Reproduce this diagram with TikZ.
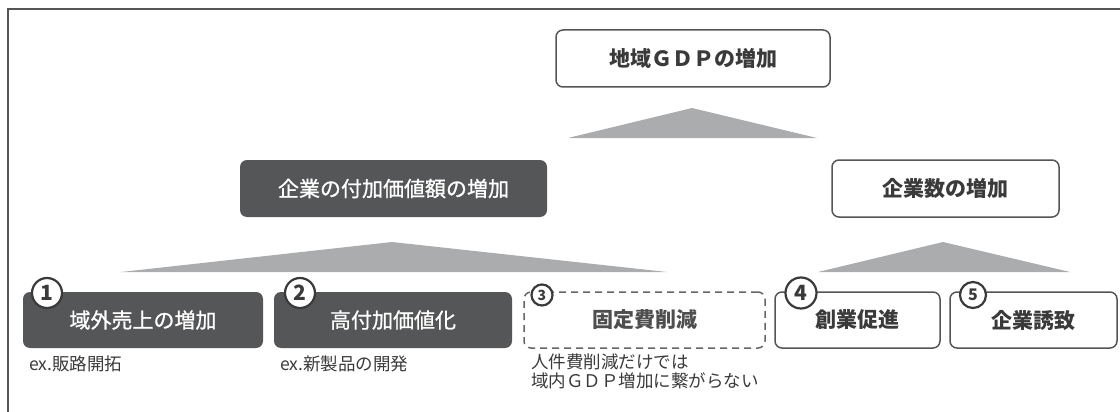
\documentclass[tikz,border=0pt]{standalone}
\usepackage{fontspec}
\setmainfont{Noto Sans CJK JP}
\newfontfamily\jpmed{Noto Sans CJK JP}[FakeBold=0.9]
\definecolor{dk}{HTML}{555658}
\definecolor{trig}{HTML}{ABACAE}
\definecolor{bd}{HTML}{555555}
\definecolor{tx}{HTML}{3A3A3A}
\begin{document}
\begin{tikzpicture}[x=1pt,y=-1pt,
  every node/.style={inner sep=0pt, outer sep=0pt},
  wbox/.style={draw=bd, line width=1.5pt, rounded corners=7pt, fill=white, text=tx, font=\bfseries\fontsize{21}{21}\selectfont},
  dbox/.style={fill=dk, rounded corners=7pt, text=white, font=\jpmed\fontsize{21}{21}\selectfont},
  dashbox/.style={draw=bd!90, line width=1.5pt, dash pattern=on 7pt off 5pt, rounded corners=7pt, fill=white, text=tx!90, font=\bfseries\fontsize{21}{21}\selectfont},
  trifill/.style={fill=trig},
  num/.style={circle, draw=tx, line width=2.2pt, fill=white, text=tx},
  note/.style={font=\fontsize{17.5}{19}\selectfont, text=tx, align=left},
]
\useasboundingbox (0,0) rectangle (1120,412);
\draw[bd, line width=2pt] (8,412) -- (8,9) -- (1120,9);

% top level
\node[wbox, minimum width=274pt, minimum height=57pt] (gdp) at (693,58.5) {地域ＧＤＰの増加};
\fill[trifill] (568,138) -- (692,108) -- (817,138) -- cycle;

% second level
\node[dbox, minimum width=307pt, minimum height=57pt] (va) at (393.5,188.5) {企業の付加価値額の増加};
\node[wbox, minimum width=227pt, minimum height=57pt] (nf) at (945.5,188.5) {企業数の増加};
\fill[trifill] (121,272) -- (392,242) -- (667,272) -- cycle;
\fill[trifill] (818,272) -- (943,242) -- (1070,272) -- cycle;

% third level
\node[dbox, minimum width=240pt, minimum height=56pt] (b1) at (143,320) {\raisebox{-4pt}{域外売上の増加}};
\node[dbox, minimum width=238pt, minimum height=56pt] (b2) at (393,320) {\raisebox{-4pt}{高付加価値化}};
\node[dashbox, minimum width=241pt, minimum height=56pt] (b3) at (644.5,320) {\raisebox{-4pt}{固定費削減}};
\node[wbox, minimum width=165pt, minimum height=56pt] (b4) at (857.5,320) {\raisebox{-4pt}{創業促進}};
\node[wbox, minimum width=167pt, minimum height=56pt] (b5) at (1033.5,320) {\raisebox{-4pt}{企業誘致}};

% numbers
\node[num, minimum size=30pt, font=\bfseries\fontsize{21}{21}\selectfont] (n1) at (47,293) {1};
\node[num, minimum size=30pt, font=\bfseries\fontsize{21}{21}\selectfont] (n2) at (300,293) {2};
\node[num, minimum size=21pt, font=\bfseries\fontsize{14}{14}\selectfont] (n3) at (542,295) {3};
\node[num, minimum size=31pt, font=\bfseries\fontsize{21}{21}\selectfont] (n4) at (801,293) {4};
\node[num, minimum size=26pt, font=\bfseries\fontsize{16}{16}\selectfont] (n5) at (973,295) {5};

% notes
\node[note, anchor=west] (e1) at (29,364) {ex.販路開拓};
\node[note, anchor=west] (e2) at (280,364) {ex.新製品の開発};
\node[note, anchor=north west] (e3) at (531,354) {人件費削減だけでは\\域内ＧＤＰ増加に繋がらない};
\end{tikzpicture}
\end{document}
